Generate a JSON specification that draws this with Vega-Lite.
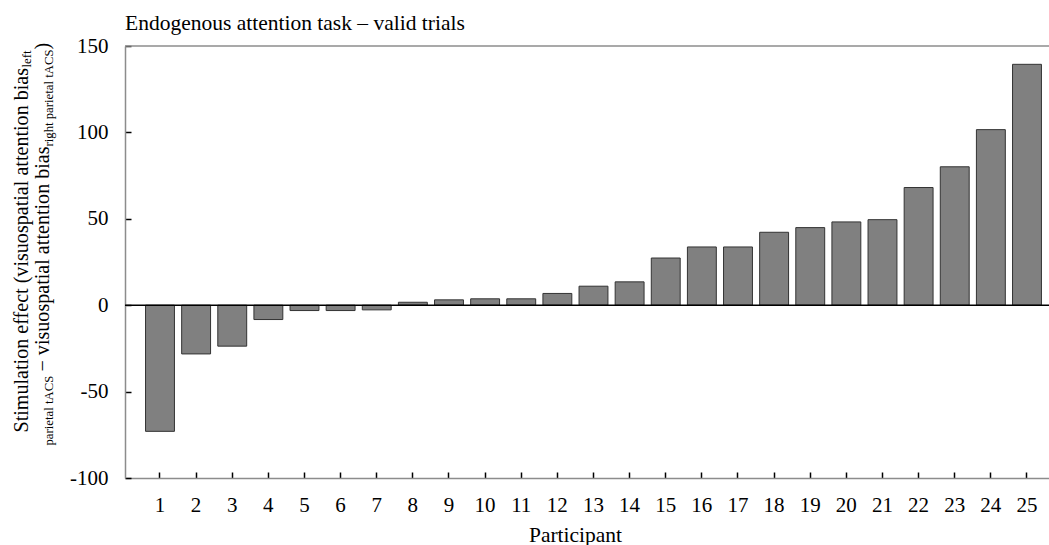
{
  "$schema": "https://vega.github.io/schema/vega-lite/v6.json",
  "width": 924,
  "height": 432,
  "autosize": {"type": "none"},
  "padding": {"left": 125, "top": 46, "right": 0, "bottom": 67},
  "background": "white",
  "config": {
    "view": {"stroke": null},
    "font": "Liberation Serif",
    "axis": {"grid": false, "labelFont": "Liberation Serif", "titleFont": "Liberation Serif", "titleFontWeight": "normal", "titleColor": "black", "labelColor": "black"}
  },
  "title": {
    "text": "Endogenous attention task – valid trials",
    "anchor": "start",
    "frame": "group",
    "font": "Liberation Serif",
    "fontSize": 21.5,
    "fontWeight": "normal",
    "color": "black",
    "offset": 1
  },
  "data": {
    "values": [
      {"participant": 1, "effect": -73},
      {"participant": 2, "effect": -28.2},
      {"participant": 3, "effect": -23.7},
      {"participant": 4, "effect": -8.3},
      {"participant": 5, "effect": -3.1},
      {"participant": 6, "effect": -3.1},
      {"participant": 7, "effect": -2.7},
      {"participant": 8, "effect": 1.7},
      {"participant": 9, "effect": 3.1},
      {"participant": 10, "effect": 3.7},
      {"participant": 11, "effect": 3.7},
      {"participant": 12, "effect": 6.8},
      {"participant": 13, "effect": 11},
      {"participant": 14, "effect": 13.5},
      {"participant": 15, "effect": 27.3},
      {"participant": 16, "effect": 33.7},
      {"participant": 17, "effect": 33.7},
      {"participant": 18, "effect": 42.2},
      {"participant": 19, "effect": 44.9},
      {"participant": 20, "effect": 48.2},
      {"participant": 21, "effect": 49.5},
      {"participant": 22, "effect": 68.1},
      {"participant": 23, "effect": 80.1},
      {"participant": 24, "effect": 101.6},
      {"participant": 25, "effect": 139.4}
    ]
  },
  "layer": [
    {
      "mark": {"type": "bar", "fill": "#808080", "stroke": "#333333", "strokeWidth": 1},
      "encoding": {
        "x": {
          "field": "participant",
          "type": "ordinal",
          "scale": {"paddingInner": 0.2, "paddingOuter": 0.389, "align": 0.731},
          "axis": {
            "labelAngle": 0,
            "labelFontSize": 21,
            "labelPadding": 22,
            "tickSize": -6,
            "tickColor": "black",
            "tickWidth": 1.5,
            "domainColor": "#8c8c8c",
            "domainWidth": 1.5,
            "title": "Participant",
            "titleFontSize": 21.5,
            "titleX": 450,
            "titleY": 63,
            "titleBaseline": "alphabetic"
          }
        },
        "y": {
          "field": "effect",
          "type": "quantitative",
          "scale": {"domain": [-100, 150], "nice": false, "zero": false},
          "axis": {
            "orient": "left",
            "values": [-100, -50, 0, 50, 100, 150],
            "labelExpr": "replace(datum.label, '−', '-')",
            "labelFontSize": 21,
            "labelPadding": 23,
            "tickSize": -6,
            "tickColor": "black",
            "tickWidth": 1.5,
            "domainColor": "#8c8c8c",
            "domainWidth": 1.5,
            "title": "Stimulation effect (visuospatial attention bias",
            "titleFontSize": 20.1,
            "titleAngle": -90,
            "titleAlign": "left",
            "titleBaseline": "alphabetic",
            "titleX": -97.5,
            "titleY": 386
          }
        }
      }
    },
    {
      "data": {"values": [{}]},
      "mark": {"type": "rule", "color": "black", "strokeWidth": 1.5},
      "encoding": {
        "y": {
          "datum": 0,
          "axis": {
            "orient": "left", "domain": false, "ticks": false, "labels": false,
            "title": "− visuospatial attention bias",
            "titleFontSize": 20.1, "titleAngle": -90, "titleAlign": "left", "titleBaseline": "alphabetic",
            "titleX": -76.5, "titleY": 325
          }
        }
      }
    },
    {
      "data": {"values": [{}]},
      "mark": {"type": "rule", "color": "#8c8c8c", "strokeWidth": 1.5},
      "encoding": {
        "y": {
          "datum": 150,
          "axis": {
            "orient": "left", "domain": false, "ticks": false, "labels": false,
            "title": "left",
            "titleFontSize": 12.75, "titleAngle": -90, "titleAlign": "right", "titleBaseline": "alphabetic",
            "titleX": -95, "titleY": 4
          }
        }
      }
    },
    {
      "data": {"values": [{}]},
      "mark": {"type": "rule", "opacity": 0},
      "encoding": {
        "y": {
          "datum": 150,
          "axis": {
            "orient": "left", "domain": false, "ticks": false, "labels": false,
            "title": "parietal tACS",
            "titleFontSize": 12.75, "titleAngle": -90, "titleAlign": "left", "titleBaseline": "alphabetic",
            "titleX": -73, "titleY": 399
          }
        }
      }
    },
    {
      "data": {"values": [{}]},
      "mark": {"type": "rule", "opacity": 0},
      "encoding": {
        "y": {
          "datum": 150,
          "axis": {
            "orient": "left", "domain": false, "ticks": false, "labels": false,
            "title": "right parietal tACS",
            "titleFontSize": 12.75, "titleAngle": -90, "titleAlign": "right", "titleBaseline": "alphabetic",
            "titleX": -73, "titleY": 3
          }
        }
      }
    },
    {
      "data": {"values": [{}]},
      "mark": {"type": "rule", "opacity": 0},
      "encoding": {
        "y": {
          "datum": 150,
          "axis": {
            "orient": "left", "domain": false, "ticks": false, "labels": false,
            "title": ")",
            "titleFontSize": 20.1, "titleAngle": -90, "titleAlign": "left", "titleBaseline": "alphabetic",
            "titleX": -76.5, "titleY": 3
          }
        }
      }
    }
  ],
  "resolve": {"axis": {"y": "independent"}}
}
